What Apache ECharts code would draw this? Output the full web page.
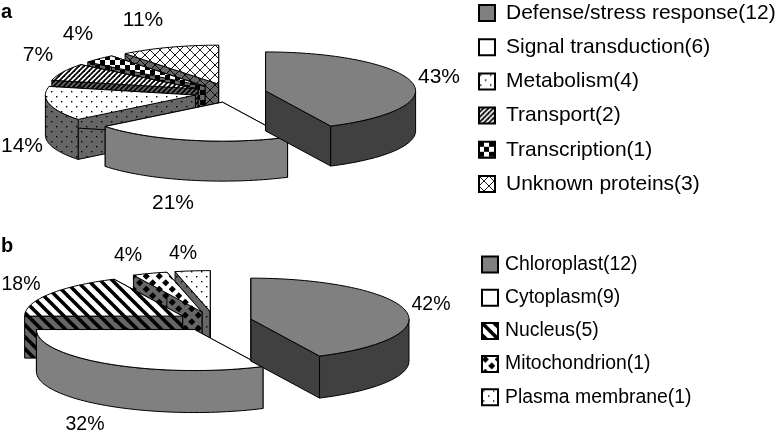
<!DOCTYPE html>
<html>
<head>
<meta charset="utf-8">
<style>
  html, body { margin: 0; background: #fff; }
  #main { width: 777px; height: 439px; }
</style>
</head>
<body>
<div id="main"></div>
<script src="https://cdn.jsdelivr.net/npm/echarts@6/dist/echarts.min.js"></script>
<script>
// data
const categoriesA = ['Defense/stress response', 'Signal transduction', 'Metabolism', 'Transport', 'Transcription', 'Unknown proteins']
const countsA = [12, 6, 4, 2, 1, 3]
const percentLabelsA = ['43%', '21%', '14%', '7%', '4%', '11%']

const categoriesB = ['Chloroplast', 'Cytoplasm', 'Nucleus', 'Mitochondrion', 'Plasma membrane']
const countsB = [12, 9, 5, 1, 1]
const percentLabelsB = ['42%', '32%', '18%', '4%', '4%']

// layout of the two pies
const pieA = {
  cx: 230.5, cy: 93, rx: 150, ry: 39, depth: 40, explode: 0.24,
  fontSize: 21,
  labelPos: [[439, 77], [173, 203], [22, 146], [38, 55], [78, 34], [143, 20]],
  fills: [['flat', '#808080', '#404040'], ['flat', '#ffffff', '#808080'], ['dots', '#ffffff', '#666666'], ['slash', '#ffffff', '#666666'], ['check', '#ffffff', '#666666'], ['cross', '#ffffff', '#666666']]
}
const pieB = {
  cx: 214.4, cy: 321.3, rx: 158, ry: 41, depth: 42, explode: 0.2375,
  fontSize: 19.5,
  labelPos: [[431, 305], [85, 425], [21, 285], [128, 256], [183, 254]],
  fills: [['flat', '#808080', '#404040'], ['flat', '#ffffff', '#808080'], ['back', '#ffffff', '#666666'], ['diamond', '#ffffff', '#666666'], ['dots', '#ffffff', '#666666']]
}

function makePattern(kind, bg) {
  if (kind === 'flat') return bg
  const sizes = { dots: 10, slash: 5, check: 10, cross: 10, back: 12, diamond: 13 }
  const s = sizes[kind]
  const c = document.createElement('canvas')
  c.width = c.height = s
  const g = c.getContext('2d')
  g.fillStyle = bg
  g.fillRect(0, 0, s, s)
  g.fillStyle = g.strokeStyle = '#000'
  const line = (x0, y0, x1, y1, w) => {
    g.lineWidth = w
    g.beginPath()
    g.moveTo(x0, y0)
    g.lineTo(x1, y1)
    g.stroke()
  }
  if (kind === 'dots') {
    g.fillRect(1, 1, 1.4, 1.4)
    g.fillRect(6, 6, 1.4, 1.4)
  } else if (kind === 'slash') {
    line(-1, s + 1, s + 1, -1, 1.8)
    line(-1, 1, 1, -1, 1.8)
    line(s - 1, s + 1, s + 1, s - 1, 1.8)
  } else if (kind === 'check') {
    g.fillRect(0, 0, 5, 5)
    g.fillRect(5, 5, 5, 5)
  } else if (kind === 'cross') {
    line(-1, -1, s + 1, s + 1, 0.9)
    line(-1, s + 1, s + 1, -1, 0.9)
  } else if (kind === 'back') {
    line(-2, -2, s + 2, s + 2, 3.6)
    line(s - 2, -2, s + 2, 2, 3.6)
    line(-2, s - 2, 2, s + 2, 3.6)
  } else if (kind === 'diamond') {
    const diamond = (x, y, r) => {
      g.beginPath()
      g.moveTo(x, y - r)
      g.lineTo(x + r, y)
      g.lineTo(x, y + r)
      g.lineTo(x - r, y)
      g.closePath()
      g.fill()
    }
    diamond(3.25, 3.25, 3.6)
    diamond(9.75, 9.75, 3.6)
  }
  return { image: c, repeat: 'repeat' }
}

// one custom series per slice, so the legend can pick them up by name
function sliceSeries(pie, categories, counts, labels) {
  const total = counts.reduce((a, b) => a + b, 0)
  let acc = 0
  const list = counts.map((v, i) => {
    const start = acc / total * 360
    acc += v
    const end = acc / total * 360
    const top = makePattern(pie.fills[i][0], pie.fills[i][1])
    const side = makePattern(pie.fills[i][0], pie.fills[i][2])
    return {
      type: 'custom',
      name: categories[i],
      coordinateSystem: 'none',
      silent: true,
      data: [[v]],
      renderItem: () => {
        const rad = a => a * Math.PI / 180
        const mid = rad((start + end) / 2)
        const ox = pie.cx + pie.explode * pie.rx * Math.sin(mid)
        const oy = pie.cy - pie.explode * pie.ry * Math.cos(mid)
        const rim = a => [ox + pie.rx * Math.sin(rad(a)), oy - pie.ry * Math.cos(rad(a))]
        const down = p => [p[0], p[1] + pie.depth]
        const arc = (a0, a1) => {
          const pts = []
          const n = Math.max(2, Math.ceil((a1 - a0) / 2))
          for (let k = 0; k <= n; k++) pts.push(rim(a0 + (a1 - a0) * k / n))
          return pts
        }
        const poly = (points, fill) => ({
          type: 'polygon',
          shape: { points },
          style: { fill, stroke: '#000', lineWidth: 1, lineJoin: 'round' }
        })
        const children = []
        // radial walls, then the front part of the outer wall, then the top
        ;[start, end].forEach(a => {
          const p = rim(a)
          children.push(poly([[ox, oy], p, down(p), down([ox, oy])], side))
        })
        const a0 = Math.max(start, 90)
        const a1 = Math.min(end, 270)
        if (a1 > a0) {
          const pts = arc(a0, a1)
          children.push(poly(pts.concat(pts.map(down).reverse()), side))
        }
        children.push(poly([[ox, oy]].concat(arc(start, end)), top))
        children.push({
          type: 'text',
          x: pie.labelPos[i][0],
          y: pie.labelPos[i][1],
          style: {
            text: labels[i],
            align: 'center',
            verticalAlign: 'middle',
            fontFamily: 'Liberation Sans',
            fontSize: pie.fontSize,
            fill: '#000'
          }
        })
        return { type: 'group', children }
      }
    }
  })
  // back slices first
  return list.reverse()
}

function legendFor(pie, categories, counts, cfg) {
  return {
    left: cfg.left,
    top: cfg.top,
    padding: 0,
    orient: 'vertical',
    selectedMode: false,
    itemWidth: cfg.box,
    itemHeight: cfg.box,
    itemGap: cfg.gap,
    icon: 'rect',
    formatter: name => name + '(' + counts[categories.indexOf(name)] + ')',
    textStyle: {
      fontFamily: 'Liberation Sans',
      fontSize: cfg.fontSize,
      color: '#000',
      padding: [0, 0, 0, cfg.textPad]
    },
    data: categories.map((name, i) => ({
      name,
      itemStyle: {
        color: makePattern(pie.fills[i][0], pie.fills[i][1]),
        borderColor: '#000',
        borderWidth: 2
      }
    }))
  }
}

const myChart = echarts.init(document.getElementById('main'), null, { renderer: 'canvas' })
myChart.setOption({
  animation: false,
  backgroundColor: '#fff',
  legend: [
    legendFor(pieA, categoriesA, countsA, { left: 478, top: 2.5, box: 16, gap: 13.2, fontSize: 21, textPad: 6 }),
    legendFor(pieB, categoriesB, countsB, { left: 481, top: 255, box: 16, gap: 14.2, fontSize: 19.4, textPad: 2 })
  ],
  graphic: [
    { type: 'text', left: 1, top: 2, style: { text: 'a', fontFamily: 'Liberation Sans', fontWeight: 'bold', fontSize: 20, fill: '#000' } },
    { type: 'text', left: 1, top: 236, style: { text: 'b', fontFamily: 'Liberation Sans', fontWeight: 'bold', fontSize: 20, fill: '#000' } }
  ],
  series: sliceSeries(pieA, categoriesA, countsA, percentLabelsA)
    .concat(sliceSeries(pieB, categoriesB, countsB, percentLabelsB))
})
</script>
</body>
</html>
